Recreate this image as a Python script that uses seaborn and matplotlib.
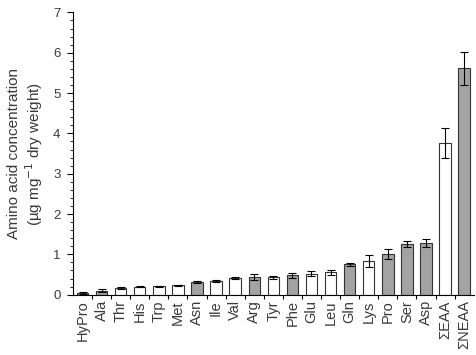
import numpy as np
import pandas as pd
import matplotlib
matplotlib.use("Agg")
import matplotlib.pyplot as plt
from matplotlib.ticker import MultipleLocator
import seaborn as sns

# data
amino = ["HyPro", "Ala", "Thr", "His", "Trp", "Met", "Asn", "Ile", "Val", "Arg", "Tyr",
         "Phe", "Glu", "Leu", "Gln", "Lys", "Pro", "Ser", "Asp", "ΣEAA", "ΣNEAA"]
conc = [0.04, 0.10, 0.16, 0.20, 0.21, 0.23, 0.32, 0.34, 0.42, 0.43, 0.43,
        0.48, 0.52, 0.55, 0.75, 0.84, 1.01, 1.26, 1.29, 3.76, 5.62]
err = [0.02, 0.03, 0.03, 0.01, 0.01, 0.02, 0.02, 0.02, 0.03, 0.07, 0.03,
       0.06, 0.06, 0.07, 0.04, 0.15, 0.12, 0.08, 0.10, 0.38, 0.41]
filled = [1, 1, 0, 0, 0, 0, 1, 0, 0, 1, 0,
          1, 0, 0, 1, 0, 1, 1, 1, 0, 1]

df = pd.DataFrame({"amino": amino, "conc": conc, "err": err})
colors = ["#a3a3a3" if f else "white" for f in filled]
txt = "#3a3a3a"

plt.rcParams["font.family"] = ["Liberation Sans", "DejaVu Sans"]
fig = plt.figure(figsize=(4.77, 3.55), dpi=100)
ax = fig.add_axes([0.153, 0.17, 0.84, 0.795])

sns.barplot(data=df, x="amino", y="conc", hue="amino", palette=colors, legend=False,
            width=0.6, edgecolor="#333333", linewidth=0.8, ax=ax)
ax.errorbar(np.arange(len(amino)), conc, yerr=err, fmt="none", ecolor="black",
            elinewidth=0.8, capsize=3, capthick=0.8)

ax.set_xlim(-0.5, len(amino) - 0.5)
ax.set_ylim(0, 7)
ax.yaxis.set_major_locator(MultipleLocator(1))
ax.yaxis.set_minor_locator(MultipleLocator(0.2))
ax.set_xticks(np.arange(len(amino)))
ax.set_xticklabels(amino, rotation=90, fontsize=10.5, color=txt)
ax.set_xticks(np.arange(len(amino) - 1) + 0.5, minor=True)
ax.tick_params(axis="x", which="major", length=0, pad=4)
ax.tick_params(axis="x", which="minor", length=3, width=0.8, direction="out")
ax.tick_params(axis="y", which="major", length=4, width=0.8, labelsize=9.5,
               labelcolor=txt, pad=5)
ax.tick_params(axis="y", which="minor", length=2, width=0.6)
for s in ["top", "right"]:
    ax.spines[s].set_visible(False)
for s in ["left", "bottom"]:
    ax.spines[s].set_linewidth(0.8)
ax.set_xlabel("")
ax.set_ylabel("Amino acid concentration\n(µg mg$^{-1}$ dry weight)", fontsize=11,
              color=txt, labelpad=6, linespacing=1.1)

fig.savefig("out.png", dpi=100)
